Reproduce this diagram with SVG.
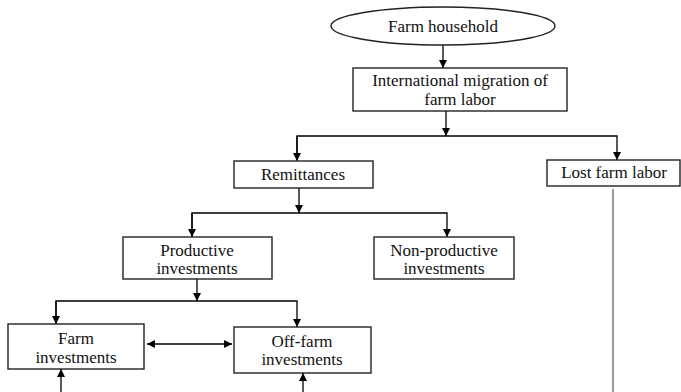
<svg xmlns="http://www.w3.org/2000/svg" width="681" height="392" viewBox="0 0 681 392">
<style>
.box{fill:#fff;stroke:#222;stroke-width:1.4}
.t{font-family:"Times New Roman","Liberation Serif",serif;font-size:17px;fill:#111;text-anchor:middle}
.c{fill:none;stroke:#000;stroke-width:1.3}
.g{fill:none;stroke:#666;stroke-width:1.3}
</style>
<defs>
<marker id="ah" markerUnits="userSpaceOnUse" markerWidth="9" markerHeight="9" refX="8" refY="4" orient="auto-start-reverse" viewBox="0 0 9 9">
<path d="M0,0 L8,4 L0,8 z" fill="#000"/>
</marker>
</defs>
<rect width="681" height="392" fill="#fff"/>
<g id="connectors">
<line class="c" x1="443" y1="45" x2="443" y2="68" marker-end="url(#ah)"/>
<line class="c" x1="446" y1="111" x2="446" y2="136" marker-end="url(#ah)"/>
<polyline class="c" points="297,160 297,136 617,136 617,160" marker-end="url(#ah)"/>
<line class="c" x1="297" y1="136" x2="297" y2="161" marker-end="url(#ah)"/>
<line class="c" x1="299" y1="188" x2="299" y2="213" marker-end="url(#ah)"/>
<polyline class="c" points="192,237 192,213 447,213 447,237" marker-end="url(#ah)"/>
<line class="c" x1="192" y1="213" x2="192" y2="237" marker-end="url(#ah)"/>
<line class="c" x1="197" y1="279" x2="197" y2="301" marker-end="url(#ah)"/>
<polyline class="c" points="56,324 56,301 297,301 297,327" marker-end="url(#ah)"/>
<line class="c" x1="56" y1="301" x2="56" y2="324" marker-end="url(#ah)"/>
<line class="c" x1="147" y1="344" x2="232" y2="344" marker-start="url(#ah)" marker-end="url(#ah)"/>
<line class="c" x1="61" y1="392" x2="61" y2="369" marker-end="url(#ah)"/>
<line class="c" x1="303" y1="392" x2="303" y2="373" marker-end="url(#ah)"/>
<line class="g" x1="613" y1="189" x2="613" y2="392"/>
</g>
<g id="farm-household">
<ellipse class="box" cx="443" cy="26" rx="112" ry="19"/>
<text class="t" x="443" y="32">Farm household</text>
</g>
<g id="migration">
<rect class="box" x="353" y="68" width="214" height="43"/>
<text class="t" x="460" y="86">International migration of</text>
<text class="t" x="460" y="105">farm labor</text>
</g>
<g id="remittances">
<rect class="box" x="234" y="161" width="139" height="27"/>
<text class="t" x="303" y="180">Remittances</text>
</g>
<g id="lost-farm-labor">
<rect class="box" x="547" y="160" width="133" height="26"/>
<text class="t" x="614" y="178">Lost farm labor</text>
</g>
<g id="productive">
<rect class="box" x="123" y="237" width="149" height="42"/>
<text class="t" x="197" y="256">Productive</text>
<text class="t" x="197" y="274">investments</text>
</g>
<g id="non-productive">
<rect class="box" x="374" y="237" width="140" height="42"/>
<text class="t" x="444" y="256">Non-productive</text>
<text class="t" x="444" y="274">investments</text>
</g>
<g id="farm-investments">
<rect class="box" x="8" y="324" width="136" height="45"/>
<text class="t" x="76" y="344">Farm</text>
<text class="t" x="76" y="363">investments</text>
</g>
<g id="off-farm-investments">
<rect class="box" x="234" y="327" width="137" height="46"/>
<text class="t" x="302" y="347">Off-farm</text>
<text class="t" x="302" y="365">investments</text>
</g>
</svg>
